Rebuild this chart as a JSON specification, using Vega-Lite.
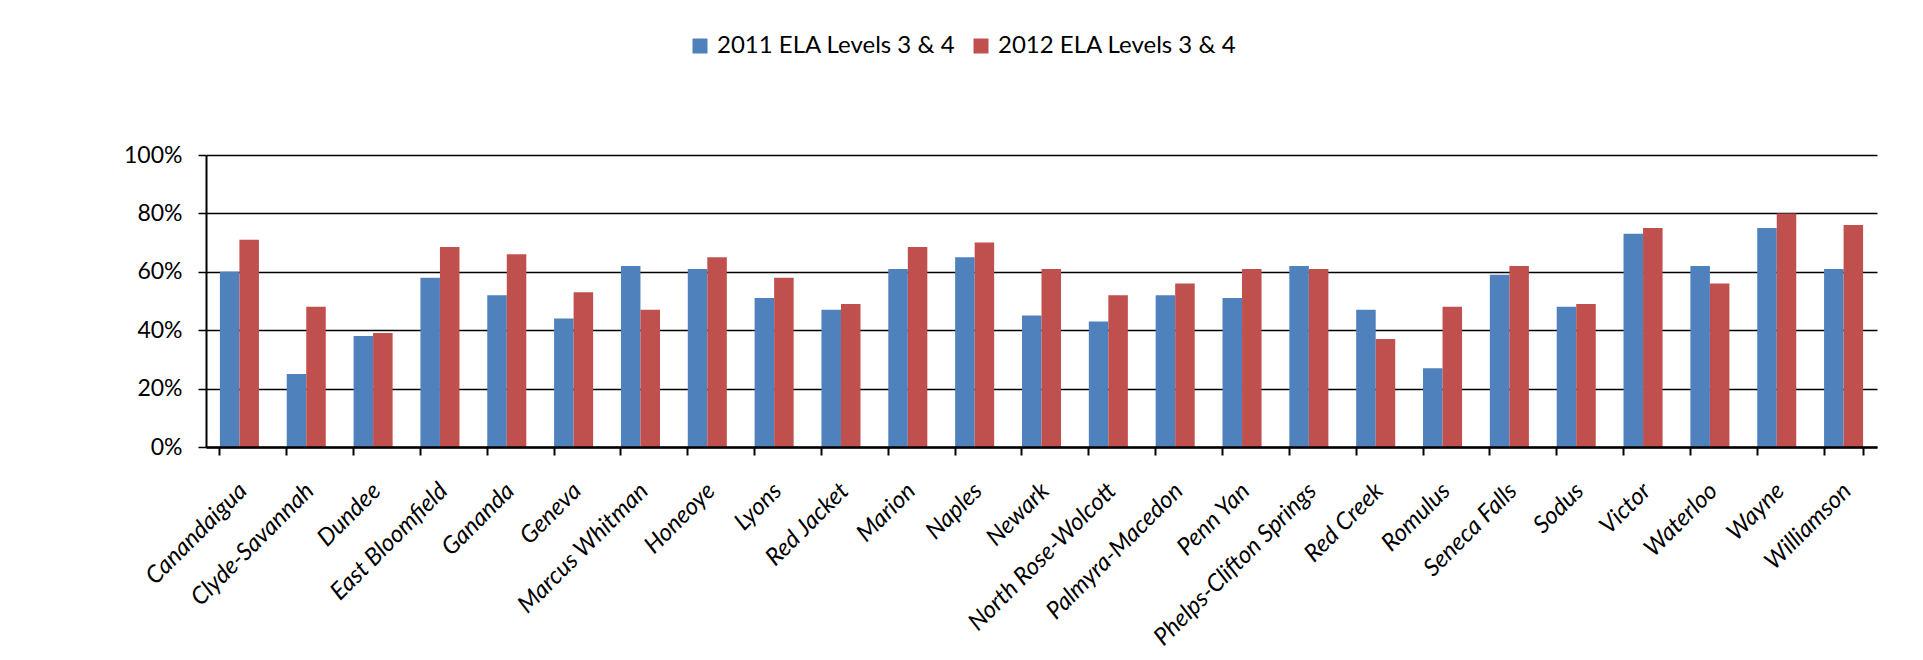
{
  "$schema": "https://vega.github.io/schema/vega-lite/v6.json",
  "width": 1671,
  "height": 292,
  "autosize": "none",
  "padding": {"left": 206, "top": 155, "right": 46, "bottom": 213},
  "background": "white",
  "config": {"view": {"stroke": null}, "font": "Lato"},
  "data": {
    "values": [
      {"district": "Canandaigua", "series": "2011 ELA Levels 3 & 4", "value": 0.60},
      {"district": "Canandaigua", "series": "2012 ELA Levels 3 & 4", "value": 0.71},
      {"district": "Clyde-Savannah", "series": "2011 ELA Levels 3 & 4", "value": 0.25},
      {"district": "Clyde-Savannah", "series": "2012 ELA Levels 3 & 4", "value": 0.48},
      {"district": "Dundee", "series": "2011 ELA Levels 3 & 4", "value": 0.38},
      {"district": "Dundee", "series": "2012 ELA Levels 3 & 4", "value": 0.39},
      {"district": "East Bloomfield", "series": "2011 ELA Levels 3 & 4", "value": 0.58},
      {"district": "East Bloomfield", "series": "2012 ELA Levels 3 & 4", "value": 0.685},
      {"district": "Gananda", "series": "2011 ELA Levels 3 & 4", "value": 0.52},
      {"district": "Gananda", "series": "2012 ELA Levels 3 & 4", "value": 0.66},
      {"district": "Geneva", "series": "2011 ELA Levels 3 & 4", "value": 0.44},
      {"district": "Geneva", "series": "2012 ELA Levels 3 & 4", "value": 0.53},
      {"district": "Marcus Whitman", "series": "2011 ELA Levels 3 & 4", "value": 0.62},
      {"district": "Marcus Whitman", "series": "2012 ELA Levels 3 & 4", "value": 0.47},
      {"district": "Honeoye", "series": "2011 ELA Levels 3 & 4", "value": 0.61},
      {"district": "Honeoye", "series": "2012 ELA Levels 3 & 4", "value": 0.65},
      {"district": "Lyons", "series": "2011 ELA Levels 3 & 4", "value": 0.51},
      {"district": "Lyons", "series": "2012 ELA Levels 3 & 4", "value": 0.58},
      {"district": "Red Jacket", "series": "2011 ELA Levels 3 & 4", "value": 0.47},
      {"district": "Red Jacket", "series": "2012 ELA Levels 3 & 4", "value": 0.49},
      {"district": "Marion", "series": "2011 ELA Levels 3 & 4", "value": 0.61},
      {"district": "Marion", "series": "2012 ELA Levels 3 & 4", "value": 0.685},
      {"district": "Naples", "series": "2011 ELA Levels 3 & 4", "value": 0.65},
      {"district": "Naples", "series": "2012 ELA Levels 3 & 4", "value": 0.70},
      {"district": "Newark", "series": "2011 ELA Levels 3 & 4", "value": 0.45},
      {"district": "Newark", "series": "2012 ELA Levels 3 & 4", "value": 0.61},
      {"district": "North Rose-Wolcott", "series": "2011 ELA Levels 3 & 4", "value": 0.43},
      {"district": "North Rose-Wolcott", "series": "2012 ELA Levels 3 & 4", "value": 0.52},
      {"district": "Palmyra-Macedon", "series": "2011 ELA Levels 3 & 4", "value": 0.52},
      {"district": "Palmyra-Macedon", "series": "2012 ELA Levels 3 & 4", "value": 0.56},
      {"district": "Penn Yan", "series": "2011 ELA Levels 3 & 4", "value": 0.51},
      {"district": "Penn Yan", "series": "2012 ELA Levels 3 & 4", "value": 0.61},
      {"district": "Phelps-Clifton Springs", "series": "2011 ELA Levels 3 & 4", "value": 0.62},
      {"district": "Phelps-Clifton Springs", "series": "2012 ELA Levels 3 & 4", "value": 0.61},
      {"district": "Red Creek", "series": "2011 ELA Levels 3 & 4", "value": 0.47},
      {"district": "Red Creek", "series": "2012 ELA Levels 3 & 4", "value": 0.37},
      {"district": "Romulus", "series": "2011 ELA Levels 3 & 4", "value": 0.27},
      {"district": "Romulus", "series": "2012 ELA Levels 3 & 4", "value": 0.48},
      {"district": "Seneca Falls", "series": "2011 ELA Levels 3 & 4", "value": 0.59},
      {"district": "Seneca Falls", "series": "2012 ELA Levels 3 & 4", "value": 0.62},
      {"district": "Sodus", "series": "2011 ELA Levels 3 & 4", "value": 0.48},
      {"district": "Sodus", "series": "2012 ELA Levels 3 & 4", "value": 0.49},
      {"district": "Victor", "series": "2011 ELA Levels 3 & 4", "value": 0.73},
      {"district": "Victor", "series": "2012 ELA Levels 3 & 4", "value": 0.75},
      {"district": "Waterloo", "series": "2011 ELA Levels 3 & 4", "value": 0.62},
      {"district": "Waterloo", "series": "2012 ELA Levels 3 & 4", "value": 0.56},
      {"district": "Wayne", "series": "2011 ELA Levels 3 & 4", "value": 0.75},
      {"district": "Wayne", "series": "2012 ELA Levels 3 & 4", "value": 0.80},
      {"district": "Williamson", "series": "2011 ELA Levels 3 & 4", "value": 0.61},
      {"district": "Williamson", "series": "2012 ELA Levels 3 & 4", "value": 0.76}
    ]
  },
  "layer": [
    {
      "mark": {"type": "bar"},
      "encoding": {
        "x": {
          "field": "district", "type": "nominal", "sort": null,
          "scale": {"paddingInner": 0.416, "paddingOuter": 0.208},
          "axis": {
            "orient": "bottom",
            "title": null, "ticks": false, "domain": false, "grid": false,
            "labelAngle": -45, "labelAlign": "right", "labelBaseline": "middle",
            "labelFont": "Lato", "labelFontStyle": "italic", "labelFontSize": 24,
            "labelColor": "black", "labelPadding": 40, "labelOffset": 4,
            "labelOverlap": false, "labelLimit": 400
          }
        },
        "xOffset": {"field": "series", "type": "nominal", "sort": ["2011 ELA Levels 3 & 4", "2012 ELA Levels 3 & 4"]},
        "y": {
          "field": "value", "type": "quantitative",
          "scale": {"domain": [0, 1]},
          "axis": {
            "title": null, "values": [0, 0.2, 0.4, 0.6, 0.8, 1], "format": ".0%",
            "grid": true, "gridColor": "black", "gridWidth": 1.5, "gridOpacity": 1,
            "domainColor": "black", "domainWidth": 2, "tickColor": "black", "tickSize": 8, "tickWidth": 1.5,
            "labelFont": "Lato", "labelFontSize": 23, "labelColor": "black", "labelPadding": 16
          }
        },
        "color": {
          "field": "series", "type": "nominal",
          "scale": {"domain": ["2011 ELA Levels 3 & 4", "2012 ELA Levels 3 & 4"], "range": ["#4F81BD", "#C0504D"]},
          "legend": {
            "title": null, "orient": "none", "direction": "horizontal",
            "legendX": 482, "legendY": -121,
            "symbolType": "square", "symbolSize": 225, "symbolStrokeWidth": 0, "symbolOpacity": 1,
            "labelFont": "Lato", "labelFontSize": 24, "labelColor": "black", "labelLimit": 0,
            "labelOffset": 5, "columnPadding": 13
          }
        }
      }
    },
    {
      "mark": {"type": "rule", "strokeOpacity": 0},
      "encoding": {
        "x": {
          "field": "district", "type": "nominal", "sort": null,
          "axis": {
            "orient": "bottom",
            "title": null, "labels": false, "grid": false, "bandPosition": 0,
            "tickColor": "black", "tickWidth": 2, "tickSize": 8,
            "domainColor": "black", "domainWidth": 2.5, "zindex": 1
          }
        }
      }
    },
    {
      "mark": {"type": "rule", "strokeOpacity": 0},
      "encoding": {
        "x": {
          "field": "district", "type": "nominal", "sort": null,
          "axis": {
            "orient": "bottom", "values": ["Williamson"],
            "title": null, "labels": false, "grid": false, "bandPosition": 1, "domain": false,
            "tickColor": "black", "tickWidth": 2, "tickSize": 8, "zindex": 1
          }
        }
      }
    }
  ],
  "resolve": {"axis": {"x": "independent"}}
}
